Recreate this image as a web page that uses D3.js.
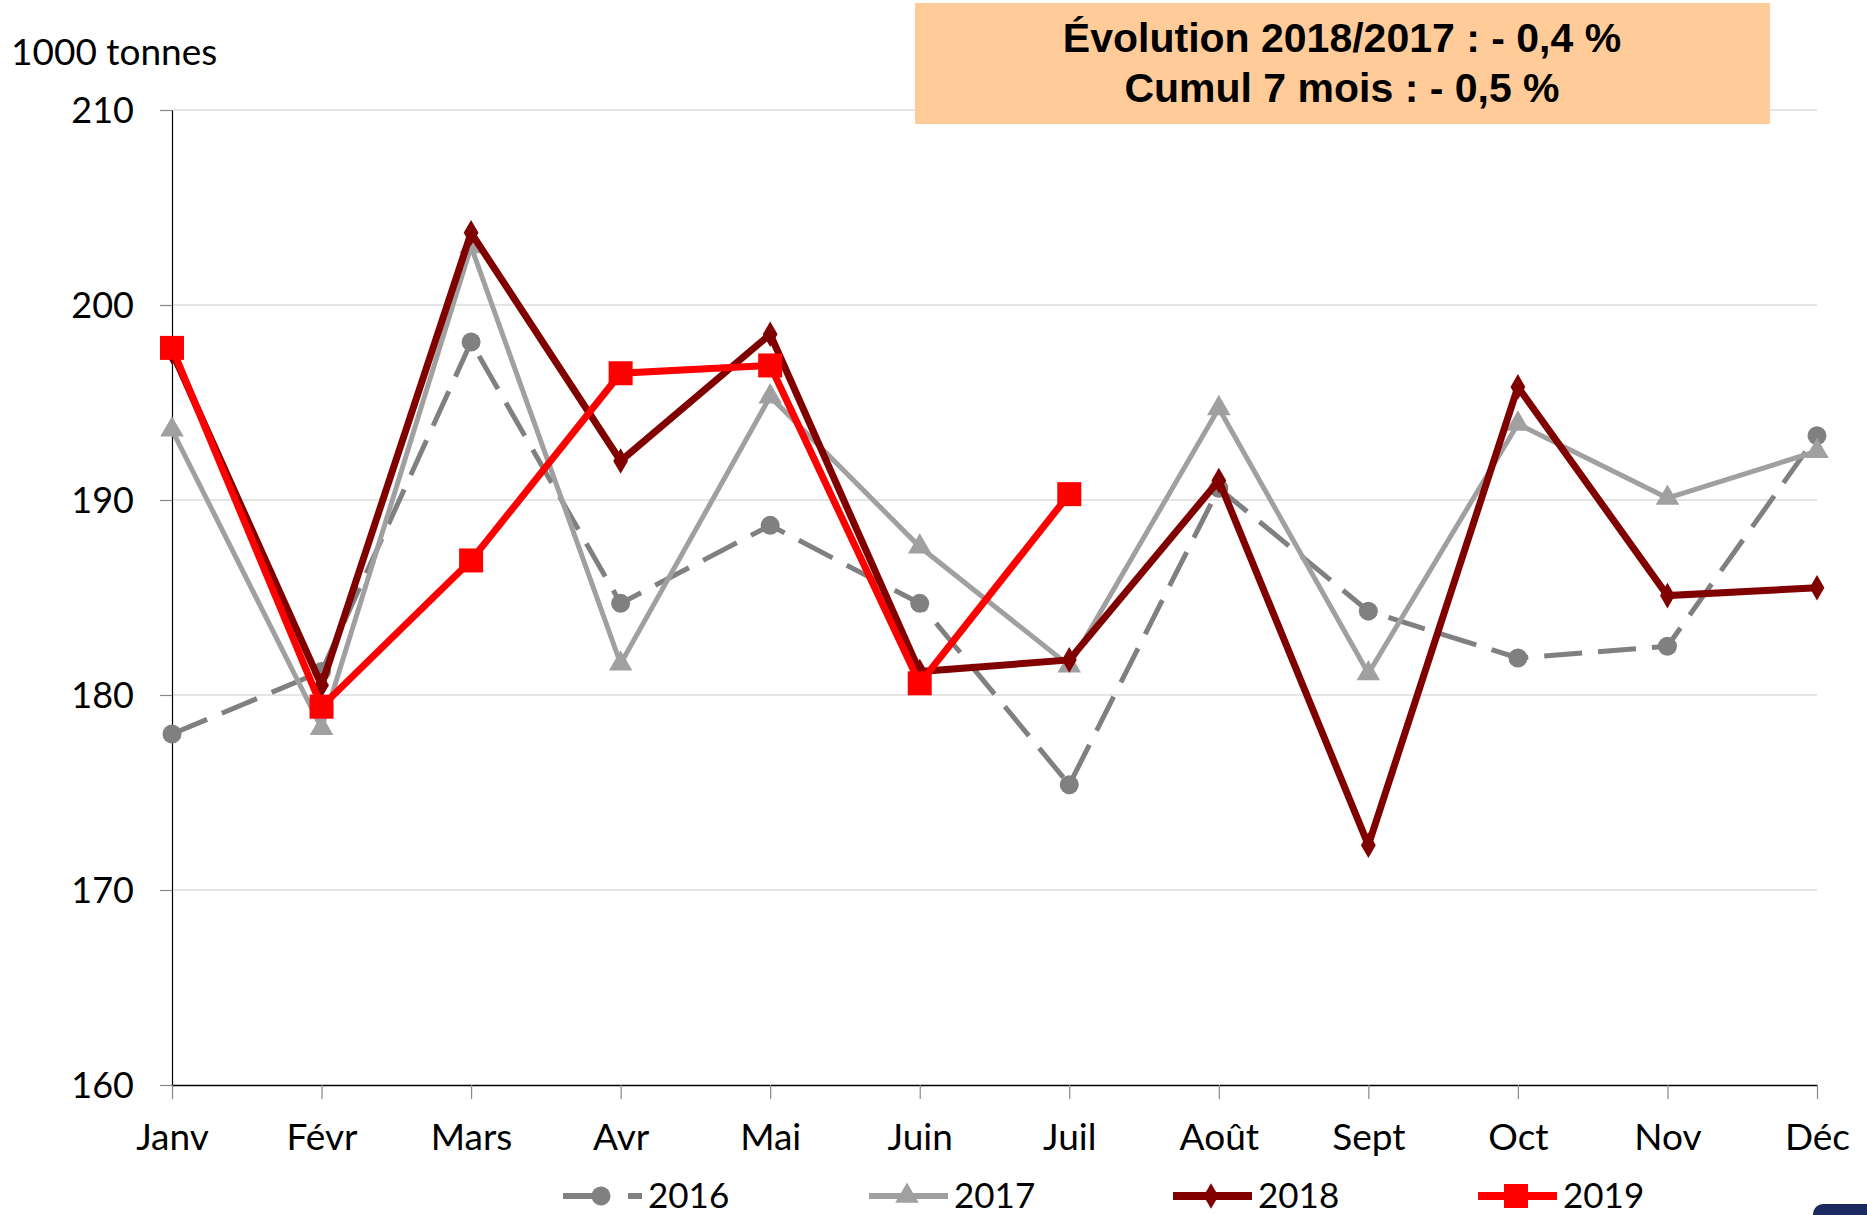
<!DOCTYPE html>
<html><head><meta charset="utf-8">
<script src="https://cdn.jsdelivr.net/npm/d3@7"></script>
<style>
html,body{margin:0;padding:0;background:#fff;}
svg{display:block;}
</style></head>
<body>
<svg id="chart" width="1867" height="1215"></svg>
<script>
const months = ["Janv","Févr","Mars","Avr","Mai","Juin","Juil","Août","Sept","Oct","Nov","Déc"];
const s2016 = [178.0,181.2,198.1,184.7,188.7,184.7,175.4,190.6,184.3,181.9,182.5,193.3];
const s2017 = [193.6,178.3,203.0,181.6,195.3,187.6,181.5,194.7,181.1,193.9,190.1,192.5];
const s2018 = [197.6,180.5,203.7,192.0,198.5,181.2,181.8,191.0,172.3,195.8,185.1,185.5];
const s2019 = [197.8,179.4,186.9,196.5,196.9,180.6,190.3];
const yTicks = [160,170,180,190,200,210];
const seriesNames = ["2016","2017","2018","2019"];
const unitLabel = "1000 tonnes";
const noteLines = ["Évolution 2018/2017 : - 0,4 %","Cumul 7 mois : - 0,5 %"];

const svg = d3.select("#chart");
const x = d3.scalePoint().domain(months).range([172,1817]).padding(0);
const y = d3.scaleLinear().domain([160,210]).range([1085,110]);
const FONT = "Lato, 'Open Sans', sans-serif";

// gridlines
svg.append("g").selectAll("line").data(yTicks.filter(d=>d>160)).join("line")
  .attr("x1",x("Janv")).attr("x2",x("Déc"))
  .attr("y1",d=>y(d)).attr("y2",d=>y(d))
  .attr("stroke","#DCDCDC").attr("stroke-width",1.6);

// y axis
const ya = svg.append("g").attr("transform",`translate(${x("Janv")},0)`)
  .call(d3.axisLeft(y).tickValues(yTicks).tickSize(12).tickSizeOuter(0).tickPadding(26));
ya.select(".domain").attr("stroke","#000").attr("stroke-width",1.2);
ya.selectAll(".tick line").attr("stroke","#888").attr("stroke-width",1.2);
ya.selectAll("text").attr("font-family",FONT).attr("font-size",36).attr("fill","#000").attr("dy","0.35em");

// x axis
const xa = svg.append("g").attr("transform",`translate(0,${y(160)})`)
  .call(d3.axisBottom(x).tickSize(14).tickSizeOuter(0).tickPadding(0));
xa.select(".domain").attr("stroke","#000").attr("stroke-width",1.6);
xa.selectAll(".tick line").attr("stroke","#888").attr("stroke-width",1.2);
xa.selectAll("text").attr("font-family",FONT).attr("font-size",37).attr("fill","#000")
  .attr("dy",null).attr("y",65);

// unit label
svg.append("text").attr("x",11).attr("y",65).text(unitLabel)
  .attr("font-family",FONT).attr("font-size",37).attr("fill","#000");

const styles = {
  "2016": {color:"#808080", width:5, dash:"38,16", marker:"circle"},
  "2017": {color:"#A0A0A0", width:5, dash:null, marker:"triangle"},
  "2018": {color:"#800000", width:7, dash:null, marker:"diamond"},
  "2019": {color:"#FF0000", width:7, dash:null, marker:"square"}
};
const symbolOf = {
  circle: d3.symbol().type(d3.symbolCircle).size(Math.PI*9.5*9.5),
  triangle: d3.symbol().type(d3.symbolTriangle).size(240),
  diamond: d3.symbol().type(d3.symbolDiamond).size(190),
  square: d3.symbol().type(d3.symbolSquare).size(24*24)
};
const data = {"2016":s2016,"2017":s2017,"2018":s2018,"2019":s2019};
const line = d3.line().x((d,i)=>x(months[i])).y(d=>y(d));

seriesNames.forEach(name=>{
  const st = styles[name];
  const vals = data[name];
  const g = svg.append("g");
  g.append("path").attr("d",line(vals)).attr("fill","none")
    .attr("stroke",st.color).attr("stroke-width",st.width)
    .attr("stroke-dasharray",st.dash).attr("stroke-linejoin","miter").attr("stroke-linecap","butt");
  g.selectAll("path.m").data(vals).join("path").attr("class","m")
    .attr("d",symbolOf[st.marker]())
    .attr("transform",(d,i)=>`translate(${x(months[i])},${y(d)})`)
    .attr("fill",st.color);
});

// legend
const legendX = [601, 907, 1211, 1516];
const ly = 1196;
seriesNames.forEach((name,k)=>{
  const st = styles[name];
  const cx = legendX[k];
  const g = svg.append("g");
  g.append("line").attr("x1",cx-38).attr("x2",cx+41).attr("y1",ly).attr("y2",ly)
    .attr("stroke",st.color).attr("stroke-width",st.width+1)
    .attr("stroke-dasharray", st.dash ? "45,20" : null);
  g.append("path").attr("d",symbolOf[st.marker]()).attr("transform",`translate(${cx},${ly})`).attr("fill",st.color);
  g.append("text").attr("x",cx+47).attr("y",ly+12).text(name)
    .attr("font-family",FONT).attr("font-size",35).attr("fill","#000");
});

// note box
svg.append("rect").attr("x",915).attr("y",3).attr("width",855).attr("height",121).attr("fill","#FFCC99");
noteLines.forEach((t,i)=>{
  svg.append("text").attr("x",1342).attr("y",[52,102][i]).attr("text-anchor","middle")
    .attr("font-family","'Liberation Sans', Arial, sans-serif").attr("font-weight","bold")
    .attr("font-size",41).attr("fill","#000").text(t);
});

// corner logo fragment
svg.append("rect").attr("x",1813).attr("y",1204).attr("width",70).attr("height",30).attr("rx",10).attr("fill","#1B2A5E");
</script>
</body></html>
